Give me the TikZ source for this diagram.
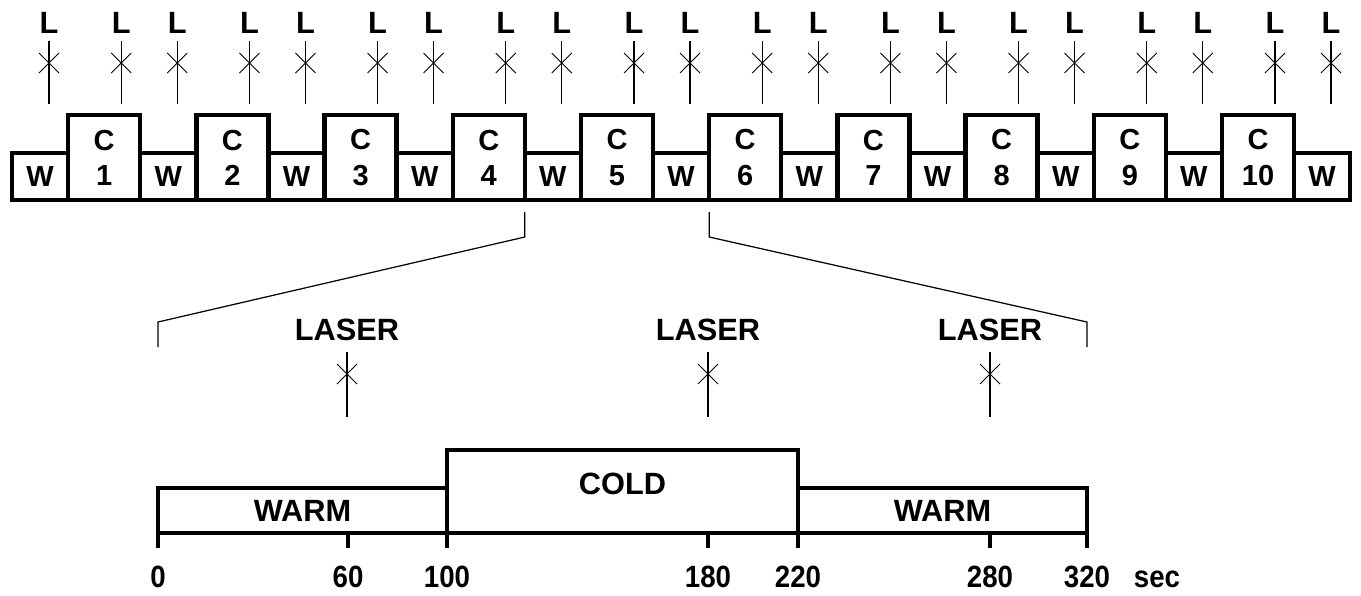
\documentclass[tikz,border=0pt]{standalone}
\usepackage{fontspec}
\setmainfont{Liberation Sans}
\usetikzlibrary{calc}

\tikzset{
 box/.style={draw, line width=2.5pt, inner sep=0pt, outer sep=0pt, anchor=south west, align=center, font=\fontsize{16.5}{20}\selectfont\bfseries},
 wbox/.style={box, minimum width=1.124cm, minimum height=0.94cm},
 cbox/.style={box, minimum width=1.44cm, minimum height=1.7cm},
 phase/.style={draw, line width=2.5pt, inner sep=0pt, outer sep=0pt, anchor=south west, font=\fontsize{17.5}{20}\selectfont\bfseries},
 big/.style={inner sep=0pt, font=\fontsize{17.5}{20}\selectfont\bfseries},
 num/.style={big, anchor=base, xscale=0.9},
 laser/.style={line width=0.75pt},
 cross/.style={line width=0.5pt},
 zoomline/.style={line width=0.7pt},
 tick/.style={line width=2.5pt},
}

% name, x, label baseline, text, line top, line bottom
\newcommand{\lasermark}[6]{%
 \node[big, anchor=base] (#1) at (#2,#3) {#4};
 \draw[laser] (#2,#5) -- (#2,#6);
 \draw[cross] ($(#2,#5)+(-10,12)$) -- ($(#2,#5)+(10,32)$);
 \draw[cross] ($(#2,#5)+(-10,32)$) -- ($(#2,#5)+(10,12)$);
}

\begin{document}
\begin{tikzpicture}[x=0.02cm, y=-0.02cm]
\useasboundingbox (0,0) rectangle (1361,595);

% cycles of warm and cold
\foreach \i in {1,...,10} {
 \pgfmathsetmacro{\xw}{12+(\i-1)*128.2}
 \pgfmathsetmacro{\xc}{\xw+56.2}
 \node[wbox] (w\i) at (\xw,200) {W};
 \node[cbox] (c\i) at (\xc,200) {C\\\i};
 \lasermark{lw\i}{\xw+37}{33}{L}{41}{104}
 \lasermark{lc\i}{\xc+53}{33}{L}{41}{104}
}
\node[wbox] (w11) at (1294,200) {W};
\lasermark{lw11}{1331}{33}{L}{41}{104}

% one cycle
\node[phase, minimum width=5.78cm, minimum height=0.9cm] (warmA) at (158,533) {WARM};
\node[phase, minimum width=7.02cm, minimum height=1.66cm, text depth=0.32cm] (cold) at (447,533) {COLD};
\node[phase, minimum width=5.78cm, minimum height=0.9cm] (warmB) at (798,533) {WARM};

\draw[zoomline] ($(c4.south east)+(0,12)$) -- ++(0,25) -- ($(warmA.north west)+(0,-166)$) -- ++(0,25);
\draw[zoomline] ($(c6.south west)+(0,12)$) -- ++(0,25) -- ($(warmB.north east)+(0,-166)$) -- ++(0,25);

\lasermark{la1}{347}{340}{LASER}{352}{417}
\lasermark{la2}{708}{340}{LASER}{352}{417}
\lasermark{la3}{990}{340}{LASER}{352}{417}

\foreach \t/\x in {0/158, 60/348, 100/447, 180/708, 220/798, 280/990, 320/1087} {
 \draw[tick] (\x,533) -- (\x,548);
 \node[num] (t\t) at (\x,587) {\t};
}
\node[num] (unit) at (1157,587) {sec};

\end{tikzpicture}
\end{document}
